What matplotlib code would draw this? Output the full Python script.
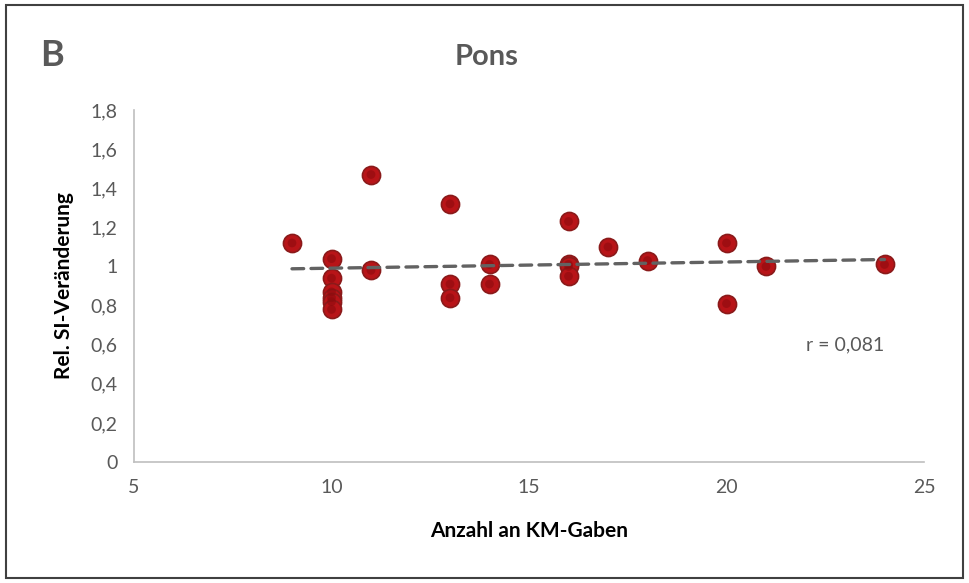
import numpy as np
import matplotlib.pyplot as plt
from matplotlib.patches import Rectangle

plt.rcParams["font.family"] = ["Lato", "DejaVu Sans"]

# Anzahl an KM-Gaben vs. relative SI-Veraenderung (Pons)
km_gaben = [9, 10, 10, 10, 10, 10, 10, 11, 11, 13, 13, 13, 14, 14,
            16, 16, 16, 16, 17, 18, 20, 20, 21, 24]
si_change = [1.12, 1.04, 0.94, 0.87, 0.84, 0.82, 0.78, 1.47, 0.98, 1.32, 0.91, 0.84, 1.01, 0.91,
             1.23, 1.01, 1.00, 0.95, 1.10, 1.03, 1.12, 0.81, 1.00, 1.01]
x_ticks = [5, 10, 15, 20, 25]
y_ticks = [0, 0.2, 0.4, 0.6, 0.8, 1.0, 1.2, 1.4, 1.6, 1.8]
y_labels = ["0", "0,2", "0,4", "0,6", "0,8", "1", "1,2", "1,4", "1,6", "1,8"]

grey = "#595959"

fig = plt.figure(figsize=(9.69, 5.83), dpi=100)
fig.patches.append(Rectangle((0.006, 0.009), 0.988, 0.982, transform=fig.transFigure,
                             fill=False, edgecolor="#404040", linewidth=1.5))

ax = fig.add_axes([134 / 969, 1 - 462 / 583, (924 - 134) / 969, (462 - 110) / 583])
ax.set_xlim(5, 25)
ax.set_ylim(0, 1.8)

# linear trend line over the data range
x = np.array(km_gaben, dtype=float)
y = np.array(si_change)
slope, intercept = np.polyfit(x, y, 1)
xs = np.array([x.min(), x.max()])
ax.plot(xs, slope * xs + intercept, color="#626262", linewidth=2.4,
        linestyle=(0, (3.5, 2.2)), zorder=3, solid_capstyle="round", dash_capstyle="round")

ax.scatter(km_gaben, si_change, s=170, color="#B81418", edgecolors="#8A1A1A",
           linewidths=1.2, zorder=2)
ax.scatter(km_gaben, si_change, s=40, color="#8E0B0E", edgecolors="none", zorder=2.1, alpha=0.6)

for side in ["top", "right"]:
    ax.spines[side].set_visible(False)
for side in ["left", "bottom"]:
    ax.spines[side].set_color("#BFBFBF")
    ax.spines[side].set_linewidth(1.2)

ax.set_xticks(x_ticks)
ax.set_yticks(y_ticks)
ax.set_yticklabels(y_labels)
ax.tick_params(length=0, labelsize=14, colors=grey, pad=12)
ax.tick_params(axis="x", pad=12)

ax.set_xlabel("Anzahl an KM-Gaben", fontsize=15, fontweight="bold", color="black", labelpad=18)
ax.set_ylabel("Rel. SI-Veränderung", fontsize=15, fontweight="bold", color="black", labelpad=12)

fig.text(487 / 969, 1 - 57 / 583, "Pons", ha="center", va="center", fontsize=21,
         fontweight="bold", color=grey)
fig.text(40 / 969, 1 - 55 / 583, "B", ha="left", va="center", fontsize=26,
         fontweight="bold", color=grey)
ax.text(22.0, 0.6, "r = 0,081", fontsize=14, color=grey, ha="left", va="center")

fig.savefig("out.png", dpi=100)
